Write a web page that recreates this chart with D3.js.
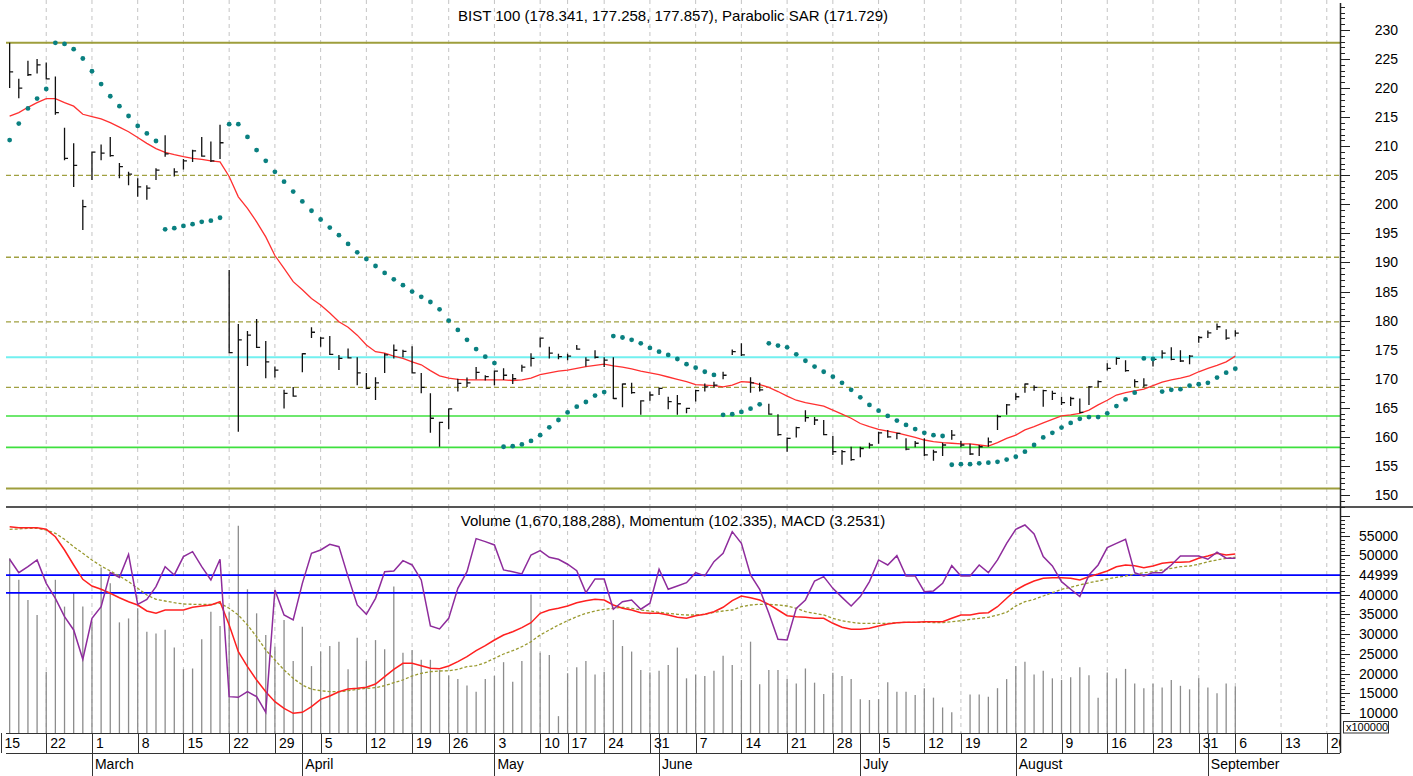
<!DOCTYPE html>
<html>
<head>
<meta charset="utf-8">
<script src="https://cdn.jsdelivr.net/npm/d3@7"></script>
<style>
  body { margin: 0; background: #fff; }
  svg { display: block; font-family: "Liberation Sans", Arial, sans-serif; }
</style>
</head>
<body>
<svg id="chart" width="1413" height="776"></svg>
<script>
// BIST 100 daily HLC, 16 Feb - 6 Sep 2021 (one value per trading day)
const high = [227.8, 221.6, 224.7, 225.0, 224.4, 222.0, 213.2, 210.5, 200.8, 209.1,
  210.3, 211.6, 207.1, 205.6, 204.5, 203.3, 206.2, 211.9, 206.2, 207.8,
  209.4, 211.6, 210.8, 213.7, 188.7, 179.4, 178.2, 180.3, 176.5, 172.1,
  168.1, 168.6, 174.4, 178.85, 177.2, 177.35, 174.1, 175.2, 173.7, 171.0,
  170.25, 174.4, 175.9, 175.0, 175.6, 171.0, 167.5, 162.6, 164.9, 170.0,
  170.2, 172.0, 170.6, 171.4, 171.8, 170.8, 172.4, 174.4, 177.1, 175.5,
  174.3, 174.3, 175.8, 173.7, 174.9, 173.7, 173.7, 169.2, 169.3, 166.3,
  167.8, 168.5, 166.9, 167.2, 165.0, 168.1, 169.2, 169.5, 171.2, 175.05,
  176.1, 170.25, 169.3, 165.7, 163.9, 159.9, 161.75, 164.6, 163.4, 162.9,
  160.15, 157.75, 158.3, 158.3, 159.0, 160.9, 161.2, 160.7, 159.75, 159.3,
  159.75, 157.8, 159.0, 161.2, 159.3, 158.8, 158.6, 159.9, 163.8, 165.65,
  167.5, 169.2, 168.9, 168.1, 167.95, 166.9, 166.9, 166.6, 168.75, 169.7,
  172.65, 173.7, 173.2, 169.9, 170.1, 173.7, 174.9, 175.4, 174.9, 174.1,
  177.35, 178.3, 179.5, 178.5, 178.341];
const low = [220.0, 218.25, 222.1, 222.5, 221.5, 215.4, 207.6, 203.0, 195.6, 204.2,
  207.6, 208.2, 204.5, 203.3, 201.3, 200.8, 204.2, 208.2, 204.8, 206.0,
  207.3, 208.2, 207.3, 207.8, 174.4, 160.9, 172.2, 175.3, 170.1, 170.2,
  164.9, 166.9, 171.1, 177.0, 175.5, 174.1, 171.5, 173.5, 168.9, 168.2,
  166.35, 171.0, 173.5, 173.7, 170.9, 167.5, 160.7, 158.3, 161.3, 167.8,
  168.6, 169.9, 169.7, 168.9, 169.8, 169.1, 171.2, 172.1, 175.4, 173.5,
  173.35, 173.2, 175.0, 172.1, 173.5, 172.0, 166.5, 165.1, 167.4, 163.8,
  166.2, 167.2, 164.75, 163.8, 164.05, 166.1, 167.8, 168.5, 169.9, 174.1,
  173.9, 167.6, 167.8, 163.8, 160.2, 157.45, 159.9, 162.6, 162.05, 160.3,
  156.9, 155.2, 155.9, 156.5, 158.0, 158.8, 159.85, 159.6, 157.7, 158.2,
  156.7, 155.9, 156.7, 159.5, 158.2, 156.9, 156.7, 158.3, 161.2, 163.8,
  166.35, 167.6, 167.95, 165.2, 166.35, 165.5, 165.3, 164.05, 165.5, 168.5,
  171.4, 172.4, 171.2, 168.6, 168.5, 172.1, 173.5, 173.2, 172.9, 172.5,
  176.2, 177.0, 178.4, 176.7, 177.258];
const close = [222.8, 220.0, 222.3, 224.0, 221.6, 215.8, 207.9, 206.7, 199.6, 209.0,
  208.8, 208.4, 206.5, 205.2, 203.0, 202.8, 205.9, 208.7, 205.6, 207.5,
  209.2, 208.3, 207.5, 210.6, 174.5, 176.7, 177.5, 175.4, 172.9, 171.5,
  167.5, 167.0, 174.3, 178.0, 177.0, 174.2, 173.5, 173.6, 171.0, 168.35,
  169.3, 174.1, 174.9, 174.7, 171.0, 168.5, 163.2, 162.5, 164.8, 169.2,
  169.3, 171.1, 170.35, 171.3, 170.6, 170.0, 172.0, 173.5, 177.0, 174.4,
  173.8, 173.9, 175.1, 173.2, 173.7, 173.2, 166.6, 169.1, 167.6, 166.2,
  167.2, 168.35, 166.05, 165.7, 164.9, 167.95, 168.6, 168.9, 170.6, 174.65,
  174.1, 169.3, 168.1, 163.9, 160.4, 159.75, 161.6, 163.3, 162.9, 160.4,
  157.45, 157.45, 156.1, 158.0, 158.6, 160.7, 160.0, 160.6, 157.9, 158.9,
  156.9, 157.4, 158.6, 160.3, 158.6, 157.05, 158.3, 159.15, 163.5, 165.5,
  166.9, 169.1, 168.5, 167.95, 167.5, 165.9, 166.6, 164.2, 168.6, 169.5,
  171.8, 173.5, 171.4, 169.5, 168.9, 173.35, 174.4, 173.35, 173.05, 173.9,
  177.1, 177.9, 178.95, 177.0, 177.857];
// moving average drawn in red on the price panel
const movAvg = [215.2, 215.8, 216.7, 217.5, 218.2, 218.2, 217.5, 216.9, 215.5, 215.1,
  214.7, 214.05, 213.3, 212.5, 211.5, 210.5, 209.6, 208.96, 208.55, 208.2,
  207.9, 207.75, 207.5, 207.3, 204.8, 201.3, 199.3, 197.0, 194.4, 191.2,
  189.0, 186.7, 185.3, 183.8, 182.7, 181.3, 179.8, 178.85, 177.5, 175.8,
  174.65, 174.4, 173.9, 173.5, 172.9, 172.4, 171.4, 170.5, 170.1, 169.9,
  169.8, 169.8, 169.8, 169.8, 169.8, 169.7, 169.8, 170.1, 170.7, 171.0,
  171.3, 171.5, 171.8, 172.1, 172.3, 172.5, 172.2, 172.0, 171.7, 171.3,
  171.0, 170.7, 170.3, 169.9, 169.5, 169.0, 168.9, 168.8, 168.6, 168.9,
  169.5, 169.4, 169.0, 168.5, 167.8, 167.0, 166.3, 165.9, 165.6, 165.3,
  164.6, 163.9, 163.2, 162.3, 161.75, 161.3, 161.0, 160.7, 160.3, 159.9,
  159.46, 159.2, 159.0, 158.9, 158.8, 158.8, 158.6, 158.4, 159.0, 159.75,
  160.3, 161.2, 161.75, 162.4, 163.0, 163.6, 163.8, 164.05, 164.6, 165.5,
  166.3, 167.2, 167.6, 167.9, 168.2, 168.8, 169.4, 169.8, 170.1, 170.5,
  171.2, 171.8, 172.3, 172.9, 173.9];
const sar = [211.07, 213.9, 216.5, 218.2, 219.85, 227.8, 227.6, 226.7, 225.1, 222.9,
  220.7, 218.6, 216.9, 215.2, 213.5, 212.2, 210.9, 195.7, 195.9, 196.3,
  196.6, 197.0, 197.2, 197.7, 213.8, 213.8, 211.6, 209.35, 207.5, 205.6,
  203.9, 202.2, 200.5, 198.9, 197.4, 196.0, 194.7, 193.2, 191.75, 190.6,
  189.4, 188.2, 187.1, 186.1, 185.0, 184.1, 183.2, 181.95, 180.0, 178.4,
  176.7, 175.1, 173.8, 172.7, 158.3, 158.4, 158.7, 159.3, 160.3, 161.65,
  162.9, 164.2, 165.2, 166.0, 167.1, 167.7, 177.35, 177.1, 176.7, 176.1,
  175.3, 174.65, 174.1, 173.4, 172.5, 171.9, 171.2, 170.65, 163.8, 163.9,
  164.3, 164.85, 165.6, 176.1, 175.7, 175.4, 174.2, 173.1, 172.1, 171.2,
  170.35, 169.3, 168.1, 166.8, 165.5, 164.5, 163.6, 162.8, 162.05, 161.35,
  160.7, 160.3, 160.15, 155.2, 155.3, 155.3, 155.45, 155.56, 155.7, 156.1,
  156.6, 157.45, 158.6, 159.9, 160.7, 161.6, 162.4, 163.1, 163.4, 163.4,
  164.05, 165.3, 166.45, 167.6, 173.5, 173.4, 167.8, 168.1, 168.2, 168.8,
  169.05, 169.3, 170.2, 171.05, 171.729];
// support / resistance levels on the price panel
const solidLevels = [227.8, 151.1];
const dashedLevels = [205.0, 190.9, 179.8, 168.5];
const cyanLevels = [173.7];
const greenLevels = [163.6, 158.2];

// lower panel: volume (x100000), momentum, MACD and its signal line
const volume = [49300, 43800, 38700, 34900, 20500, 43800, 37000, 40500, 37000, 33200,
  46900, 42900, 33000, 34000, 36600, 30600, 30200, 31100, 26600, 21100,
  21300, 28700, 35700, 32100, 35600, 57500, 41400, 35300, 29800, 26800,
  33600, 23200, 31900, 21900, 25600, 27000, 28100, 21100, 29100, 23200,
  28500, 26200, 42100, 25300, 26000, 23500, 23500, 20900, 19500, 18600,
  17000, 15400, 18600, 19400, 22900, 17900, 23200, 40100, 25300, 24700,
  9200, 20100, 21600, 23200, 19800, 20500, 33600, 27000, 25600, 20900,
  20300, 20700, 22200, 26600, 18800, 19800, 19400, 20700, 24500, 22200,
  18400, 28100, 17300, 20900, 20900, 18600, 17500, 21300, 17700, 14800,
  20200, 19400, 18600, 13500, 13300, 13500, 17800, 15400, 15400, 14600,
  16300, 13900, 11400, 10200, 5000, 14700, 14700, 14100, 16300, 18600,
  21900, 23000, 19800, 20700, 18800, 18400, 19100, 21600, 19600, 13900,
  20300, 18800, 21200, 17500, 16300, 17400, 16500, 18400, 16900, 16000,
  18800, 16500, 15000, 17500, 16702];
const momentum = [102.24, 100.9, 101.5, 102.17, 99.83, 98.33, 96.5, 95.17, 92.24, 96.33,
  97.5, 100.9, 100.43, 102.73, 97.73, 98.23, 99.5, 101.5, 100.67, 102.5,
  103.0, 101.5, 100.17, 102.24, 88.5, 88.43, 89.0, 88.5, 86.93, 99.17,
  96.67, 96.17, 99.83, 102.83, 103.17, 103.73, 103.5, 100.5, 97.67, 96.73,
  98.33, 101.0, 101.07, 102.1, 101.67, 100.17, 95.57, 95.27, 96.33, 99.33,
  101.0, 104.3, 104.0, 103.67, 101.17, 101.0, 100.77, 102.67, 103.1, 102.43,
  102.24, 101.74, 101.1, 98.9, 100.27, 100.27, 97.24, 98.0, 98.17, 97.24,
  97.84, 101.24, 99.24, 99.57, 99.9, 100.9, 100.57, 102.0, 102.83, 105.0,
  103.83, 100.67, 99.24, 96.83, 94.24, 94.17, 97.33, 98.17, 100.07, 100.5,
  99.33, 98.43, 97.57, 98.5, 100.0, 102.17, 101.67, 102.6, 100.57, 100.57,
  99.0, 99.07, 99.83, 101.6, 100.57, 100.57, 101.67, 100.9, 102.17, 103.83,
  105.24, 105.67, 104.77, 102.5, 101.57, 100.0, 99.24, 98.5, 100.67, 101.67,
  103.4, 103.83, 104.24, 100.9, 100.57, 100.9, 100.9, 101.67, 102.57, 102.57,
  102.57, 102.24, 102.94, 102.34, 102.335];
const macd = [5.98, 5.88, 5.88, 5.88, 5.72, 4.98, 3.65, 2.15, 0.72, 0.05,
  -0.28, -0.68, -1.12, -1.52, -1.85, -2.45, -2.68, -2.35, -2.35, -2.35,
  -2.08, -1.95, -1.85, -1.52, -3.85, -6.52, -8.02, -9.35, -10.52, -11.52,
  -12.18, -12.68, -12.58, -12.02, -11.28, -10.95, -10.52, -10.25, -10.18, -10.08,
  -9.75, -9.02, -8.28, -7.68, -7.68, -7.92, -8.18, -8.22, -7.95, -7.52,
  -7.02, -6.42, -5.92, -5.35, -4.85, -4.52, -4.12, -3.62, -2.68, -2.35,
  -2.18, -1.95, -1.62, -1.42, -1.28, -1.35, -1.85, -2.18, -2.35, -2.62,
  -2.68, -2.68, -2.85, -3.08, -3.18, -2.92, -2.78, -2.52, -2.08, -1.42,
  -0.95, -1.12, -1.35, -1.78, -2.35, -2.92, -3.02, -3.08, -3.18, -3.18,
  -3.68, -4.08, -4.28, -4.28, -4.18, -3.95, -3.75, -3.62, -3.58, -3.58,
  -3.52, -3.52, -3.52, -3.18, -2.85, -2.85, -2.68, -2.62, -2.02, -1.18,
  -0.35, 0.15, 0.55, 0.82, 0.88, 0.88, 0.82, 0.65, 0.98, 1.25,
  1.55, 1.98, 2.15, 2.08, 1.88, 2.05, 2.32, 2.42, 2.42, 2.48,
  2.82, 3.05, 3.32, 3.15, 3.2531];
const signal = [5.72, 5.75, 5.82, 5.82, 5.65, 5.32, 4.72, 3.98, 3.32, 2.65,
  2.05, 1.55, 1.05, 0.48, -0.18, -0.85, -1.28, -1.45, -1.62, -1.75,
  -1.78, -1.78, -1.78, -1.68, -2.18, -2.85, -3.85, -5.02, -6.35, -7.35,
  -8.35, -9.18, -9.85, -10.28, -10.42, -10.52, -10.52, -10.42, -10.28, -10.18,
  -10.12, -9.92, -9.62, -9.35, -8.95, -8.68, -8.52, -8.45, -8.42, -8.28,
  -8.02, -7.92, -7.62, -7.18, -6.75, -6.42, -6.02, -5.52, -4.85, -4.35,
  -3.85, -3.42, -3.02, -2.68, -2.45, -2.28, -2.18, -2.08, -2.18, -2.35,
  -2.45, -2.58, -2.68, -2.78, -2.85, -2.85, -2.78, -2.58, -2.45, -2.35,
  -2.02, -1.85, -1.78, -1.78, -1.85, -1.95, -2.18, -2.52, -2.68, -2.85,
  -3.18, -3.42, -3.58, -3.68, -3.68, -3.68, -3.68, -3.62, -3.58, -3.58,
  -3.58, -3.6, -3.62, -3.52, -3.42, -3.28, -3.18, -3.08, -2.85, -2.58,
  -1.95, -1.52, -1.28, -0.95, -0.62, -0.28, -0.08, 0.15, 0.38, 0.55,
  0.75, 0.92, 1.05, 1.25, 1.38, 1.48, 1.65, 1.82, 1.98, 2.05,
  2.22, 2.48, 2.65, 2.82, 2.92];
const volumeLevels = [44999, 40500];

const priceTicks = d3.range(150, 231, 5);
const volumeTicks = [10000, 15000, 20000, 25000, 30000, 35000, 40000, 45000, 50000, 55000];
const volumeTickLabels = ["10000", "15000", "20000", "25000", "30000", "35000", "40000", "44999", "50000", "55000"];

// Borsa Istanbul closed days in the window
const holidays = ["2021-04-23", "2021-05-13", "2021-05-14", "2021-05-19", "2021-07-15",
  "2021-07-20", "2021-07-21", "2021-07-22", "2021-07-23", "2021-08-30"];

const fmtKey = d3.timeFormat("%Y-%m-%d");
const days = d3.timeDay.range(new Date(2021, 1, 15), new Date(2021, 8, 25))
  .filter(d => d.getDay() > 0 && d.getDay() < 6 && !holidays.includes(fmtKey(d)));
const first = 1; // data starts on the second trading day (16 Feb)

const W = 1413, H = 776;
const left = 6, right = 1340;
const topY0 = 0, topY1 = 507, botY1 = 733, dayY1 = 753;

const svg = d3.select("#chart");
const x = d3.scaleLinear().domain([0, 146.5]).range([0.5, 1340.5]);
const yP = d3.scaleLinear().domain([147.935, 235.161]).range([topY1, topY0]);
const yV = d3.scaleLinear().domain([4924, 62283]).range([botY1, topY1]);
const yM = d3.scaleLinear().domain([84.865, 107.465]).range([botY1, topY1]);
const yD = d3.scaleLinear().domain([-14.65, 7.95]).range([botY1, topY1]);

const defs = svg.append("defs");
defs.append("clipPath").attr("id", "clipTop").append("rect")
  .attr("x", left).attr("y", topY0).attr("width", right - left).attr("height", topY1 - topY0);
defs.append("clipPath").attr("id", "clipBot").append("rect")
  .attr("x", left).attr("y", topY1).attr("width", right - left).attr("height", botY1 - topY1);
defs.append("clipPath").attr("id", "clipDate").append("rect")
  .attr("x", 0).attr("y", botY1).attr("width", right).attr("height", H - botY1);

// week starts (first trading day of a week), skipping ones that crowd the previous
const weekIdx = [];
days.forEach((d, i) => {
  const wk = +d3.timeMonday.floor(d);
  if (i === 0 || wk !== +d3.timeMonday.floor(days[i - 1])) {
    if (!weekIdx.length || i - weekIdx[weekIdx.length - 1] > 1) weekIdx.push(i);
  }
});
const monthIdx = [];
days.forEach((d, i) => { if (i > 0 && d.getMonth() !== days[i - 1].getMonth()) monthIdx.push(i); });

// vertical grid through both panels
svg.append("g").attr("clip-path", "url(#clipTop)")
  .selectAll("line").data(weekIdx).join("line")
  .attr("x1", i => x(i)).attr("x2", i => x(i)).attr("y1", topY0).attr("y2", topY1)
  .attr("stroke", "#c4c4c4").attr("stroke-dasharray", "4,4");
svg.append("g").attr("clip-path", "url(#clipBot)")
  .selectAll("line").data(weekIdx).join("line")
  .attr("x1", i => x(i)).attr("x2", i => x(i)).attr("y1", topY1).attr("y2", botY1)
  .attr("stroke", "#c4c4c4").attr("stroke-dasharray", "4,4");

// ---- price panel ----
const priceG = svg.append("g").attr("clip-path", "url(#clipTop)");
const hline = (vals, color, width, dash) => priceG.append("g").selectAll("line").data(vals).join("line")
  .attr("x1", left).attr("x2", right).attr("y1", d => yP(d)).attr("y2", d => yP(d))
  .attr("stroke", color).attr("stroke-width", width).attr("stroke-dasharray", dash);
hline(dashedLevels, "#a0a040", 1.3, "5,3");
hline(solidLevels, "#9e9e3c", 2, null);
hline(cyanLevels, "#72f0f0", 2, null);
hline(greenLevels, "#3ee03e", 1.6, null);

priceG.append("path").datum(movAvg)
  .attr("d", d3.line().x((d, i) => x(i + first)).y(d => yP(d)))
  .attr("fill", "none").attr("stroke", "#ff3030").attr("stroke-width", 1.3);

priceG.append("g").selectAll("path").data(close).join("path")
  .attr("d", (c, i) => `M${x(i + first)},${yP(high[i])}V${yP(low[i])}M${x(i + first)},${yP(c)}h3.5`)
  .attr("fill", "none").attr("stroke", "#111").attr("stroke-width", 1.3);

priceG.append("g").selectAll("circle").data(sar).join("circle")
  .attr("cx", (d, i) => x(i + first)).attr("cy", d => yP(d)).attr("r", 2.4)
  .attr("fill", "#0a8080");

svg.append("text").attr("x", 673).attr("y", 21).attr("text-anchor", "middle")
  .attr("font-size", 15).text("BIST 100 (178.341, 177.258, 177.857), Parabolic SAR (171.729)");

// ---- indicator panel ----
const indG = svg.append("g").attr("clip-path", "url(#clipBot)");
indG.append("g").selectAll("line").data(volume).join("line")
  .attr("x1", (d, i) => x(i + first)).attr("x2", (d, i) => x(i + first))
  .attr("y1", botY1).attr("y2", d => yV(d))
  .attr("stroke", "#8c8c8c").attr("stroke-width", 1.3);
indG.append("g").selectAll("line").data(volumeLevels).join("line")
  .attr("x1", left).attr("x2", right).attr("y1", d => yV(d)).attr("y2", d => yV(d))
  .attr("stroke", "#0000ff").attr("stroke-width", 1.6);
indG.append("path").datum(signal)
  .attr("d", d3.line().x((d, i) => x(i + first)).y(d => yD(d)))
  .attr("fill", "none").attr("stroke", "#9a9a30").attr("stroke-width", 1.3).attr("stroke-dasharray", "3,2");
indG.append("path").datum(macd)
  .attr("d", d3.line().x((d, i) => x(i + first)).y(d => yD(d)))
  .attr("fill", "none").attr("stroke", "#ff2020").attr("stroke-width", 1.5);
indG.append("path").datum(momentum)
  .attr("d", d3.line().x((d, i) => x(i + first)).y(d => yM(d)))
  .attr("fill", "none").attr("stroke", "#8e2c9c").attr("stroke-width", 1.5);

svg.append("text").attr("x", 673).attr("y", 526).attr("text-anchor", "middle")
  .attr("font-size", 15).text("Volume (1,670,188,288), Momentum (102.335), MACD (3.2531)");

// ---- frame ----
svg.append("line").attr("x1", left).attr("x2", W).attr("y1", topY1).attr("y2", topY1)
  .attr("stroke", "#555").attr("stroke-width", 2);
svg.append("line").attr("x1", left).attr("x2", right).attr("y1", botY1 + 0.5).attr("y2", botY1 + 0.5)
  .attr("stroke", "#333");
svg.append("line").attr("x1", left).attr("x2", right).attr("y1", dayY1 + 0.5).attr("y2", dayY1 + 0.5)
  .attr("stroke", "#333");
svg.append("line").attr("x1", right + 0.5).attr("x2", right + 0.5).attr("y1", 3).attr("y2", dayY1)
  .attr("stroke", "#222").attr("stroke-width", 1.5);

// ---- right axes ----
const axP = svg.append("g");
axP.selectAll("line").data(d3.range(148, 235)).join("line")
  .attr("x1", right).attr("x2", d => right + (d % 5 === 0 ? 10 : 5))
  .attr("y1", d => Math.round(yP(d)) + 0.5).attr("y2", d => Math.round(yP(d)) + 0.5)
  .attr("stroke", "#222");
axP.selectAll("text").data(priceTicks).join("text")
  .attr("x", 1398).attr("y", d => yP(d) + 5).attr("text-anchor", "end")
  .attr("font-size", 14).text(d => d);

const axV = svg.append("g");
axV.selectAll("line").data(d3.range(10000, 61000, 1000)).join("line")
  .attr("x1", right).attr("x2", d => right + (d % 5000 === 0 ? 10 : 5))
  .attr("y1", d => Math.round(yV(d)) + 0.5).attr("y2", d => Math.round(yV(d)) + 0.5)
  .attr("stroke", "#222");
axV.selectAll("text").data(volumeTicks).join("text")
  .attr("x", 1398).attr("y", d => yV(d) + 5).attr("text-anchor", "end")
  .attr("font-size", 14).text((d, i) => volumeTickLabels[i]);
axV.append("rect").attr("x", 1343.5).attr("y", 721.5).attr("width", 45).attr("height", 11.5)
  .attr("fill", "#fff").attr("stroke", "#333");
axV.append("text").attr("x", 1346).attr("y", 731).attr("font-size", 11).text("x100000");

// ---- date axis ----
const dax = svg.append("g").attr("clip-path", "url(#clipDate)");
const fDay = d3.timeFormat("%-d"), fMonth = d3.timeFormat("%B");
dax.selectAll("line.wk").data(weekIdx).join("line").attr("class", "wk")
  .attr("x1", i => Math.round(x(i)) + 0.5).attr("x2", i => Math.round(x(i)) + 0.5)
  .attr("y1", botY1).attr("y2", dayY1).attr("stroke", "#333");
dax.selectAll("text.wk").data(weekIdx).join("text").attr("class", "wk")
  .attr("x", i => x(i) + 4).attr("y", 748).attr("font-size", 14).text(i => fDay(days[i]));
dax.selectAll("line.mo").data(monthIdx).join("line").attr("class", "mo")
  .attr("x1", i => Math.round(x(i)) + 0.5).attr("x2", i => Math.round(x(i)) + 0.5)
  .attr("y1", botY1).attr("y2", H).attr("stroke", "#333");
dax.selectAll("text.mo").data(monthIdx).join("text").attr("class", "mo")
  .attr("x", i => x(i) + 3).attr("y", 769).attr("font-size", 14).text(i => fMonth(days[i]));
</script>
</body>
</html>
